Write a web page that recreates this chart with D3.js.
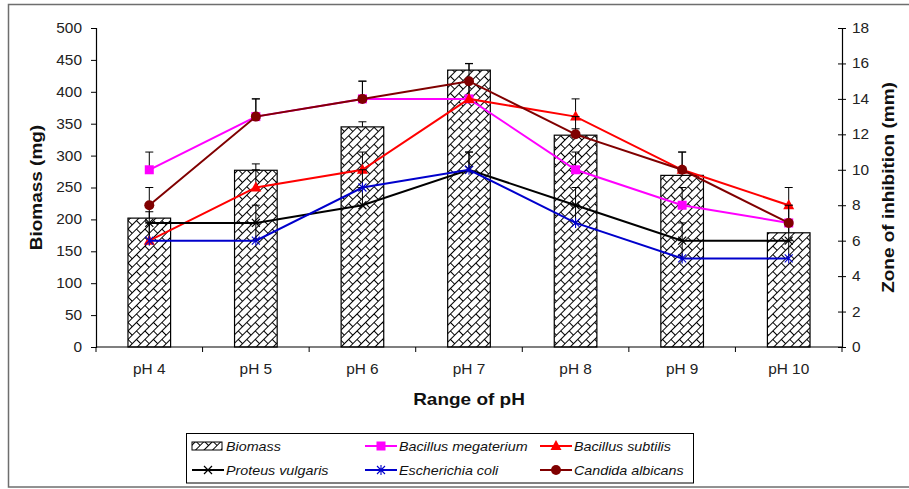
<!DOCTYPE html>
<html><head><meta charset="utf-8">
<script src="https://cdn.jsdelivr.net/npm/d3@7"></script>
<style>
html,body{margin:0;padding:0;background:#fff;}
svg{display:block;font-family:"Liberation Sans",Arial,sans-serif;}
</style></head>
<body><svg id="chart" width="909" height="489"></svg>
<script>
// ---- data ----
const categories = ["pH 4","pH 5","pH 6","pH 7","pH 8","pH 9","pH 10"];
const biomass = [202, 277, 345, 434, 332, 269, 179];
const biomassErr = [10, 10, 8, 10, 10, 10, 10];
const megaterium = [10, 13, 14, 14, 10, 8, 7];
const subtilis = [6, 9, 10, 14, 13, 10, 8];
const proteus = [7, 7, 8, 10, 8, 6, 6];
const ecoli = [6, 6, 9, 10, 7, 5, 5];
const candida = [8, 13, 14, 15, 12, 10, 7];
const zoneErr = [1, 1, 1, 1, 1, 1, 1];
const leftTicks = [0,50,100,150,200,250,300,350,400,450,500];
const rightTicks = [0,2,4,6,8,10,12,14,16,18];

const series = [
  {name:"Bacillus megaterium", values:megaterium, color:"#FF00FF", marker:"square"},
  {name:"Bacillus subtilis", values:subtilis, color:"#FF0000", marker:"triangle"},
  {name:"Proteus vulgaris", values:proteus, color:"#000000", marker:"x"},
  {name:"Escherichia coli", values:ecoli, color:"#0000CC", marker:"star"},
  {name:"Candida albicans", values:candida, color:"#800000", marker:"circle"}
];

const svg = d3.select("#chart");
const L = 96, R = 842, T = 28, B = 347;

function stretch(sel, sx){
  sel.each(function(){
    const t = d3.select(this);
    const x = +t.attr("x") || 0;
    t.attr("x", x/sx);
    const tr = t.attr("transform") || "";
    t.attr("transform", (tr ? tr + " " : "") + `scale(${sx},1)`);
  });
}

// outer frame
svg.append("rect").attr("x",8.5).attr("y",4.5).attr("width",920).attr("height",482.5)
  .attr("fill","none").attr("stroke","#6e6e6e").attr("stroke-width",1.5);

// hatch pattern (diagonal brick)
const defs = svg.append("defs");
const pat = defs.append("pattern").attr("id","brick").attr("patternUnits","userSpaceOnUse")
  .attr("width",12).attr("height",12).attr("patternTransform","rotate(-45)");
pat.append("rect").attr("width",12).attr("height",12).attr("fill","#fff");
pat.append("path").attr("d","M0,0.5H12 M0,6.5H12 M0.5,0.5V6.5 M6.5,6.5V12.5")
  .attr("stroke","#000").attr("stroke-width",1).attr("fill","none");

const x = d3.scaleBand().domain(categories).range([L,R]).paddingInner(0.6).paddingOuter(0.3);
const yL = d3.scaleLinear().domain([0,500]).range([B,T]);
const yR = d3.scaleLinear().domain([0,18]).range([B,T]);
const cx = c => x(c) + x.bandwidth()/2;

// bars
svg.append("g").selectAll("rect").data(categories).join("rect")
  .attr("x", c => x(c)).attr("width", x.bandwidth())
  .attr("y", (c,i) => yL(biomass[i])).attr("height", (c,i) => B - yL(biomass[i]))
  .attr("fill","url(#brick)").attr("stroke","#000").attr("stroke-width",1.2);

// biomass error bars
const eb = svg.append("g").attr("stroke","#000").attr("stroke-width",1);
categories.forEach((c,i) => {
  const px = cx(c), y0 = yL(biomass[i]), y1 = yL(biomass[i]+biomassErr[i]);
  eb.append("line").attr("x1",px).attr("x2",px).attr("y1",y0).attr("y2",y1);
  eb.append("line").attr("x1",px-4).attr("x2",px+4).attr("y1",y1).attr("y2",y1);
});

// axes
const axL = svg.append("g").attr("transform",`translate(${L},0)`)
  .call(d3.axisLeft(yL).tickValues(leftTicks).tickSize(5).tickPadding(9));
const axR = svg.append("g").attr("transform",`translate(${R},0)`)
  .call(d3.axisRight(yR).tickValues(rightTicks).tickSize(4).tickPadding(6));
axR.selectAll(".tick line").attr("x1",-4);
const axB = svg.append("g").attr("transform",`translate(0,${B})`)
  .call(d3.axisBottom(x).tickSize(0).tickPadding(17));
[axL,axR,axB].forEach(a => {
  a.select(".domain").attr("stroke","#000").attr("stroke-width",1.2);
  a.selectAll(".tick line").attr("stroke","#000").attr("stroke-width",1);
  a.selectAll("text").attr("font-family","Liberation Sans, Arial, sans-serif").attr("font-size",14).attr("fill","#222");
  stretch(a.selectAll("text"), 1.1);
});
axB.select(".domain").attr("d",`M${L},0H${R}`);
// category boundary ticks
const boundaries = d3.range(categories.length+1).map(i => L + i*x.step());
axB.selectAll(".bt").data(boundaries).join("line").attr("class","bt")
  .attr("x1",d=>d).attr("x2",d=>d).attr("y1",0).attr("y2",5).attr("stroke","#000");

// series lines, error bars, markers
const line = d3.line().x((d,i)=>cx(categories[i])).y(d=>yR(d));
function marker(g, type, color, px, py){
  if(type==="square") g.append("rect").attr("x",px-4.5).attr("y",py-4.5).attr("width",9).attr("height",9).attr("fill",color);
  else if(type==="triangle") g.append("path").attr("d",`M${px},${py-6}L${px+5.5},${py+4}L${px-5.5},${py+4}Z`).attr("fill",color);
  else if(type==="circle") g.append("circle").attr("cx",px).attr("cy",py).attr("r",5).attr("fill",color);
  else if(type==="x") g.append("path").attr("d",`M${px-4},${py-4}L${px+4},${py+4}M${px-4},${py+4}L${px+4},${py-4}`).attr("stroke",color).attr("stroke-width",1.2);
  else if(type==="star") g.append("path").attr("d",`M${px-4},${py-4}L${px+4},${py+4}M${px-4},${py+4}L${px+4},${py-4}M${px},${py-5}V${py+5}`).attr("stroke",color).attr("stroke-width",1.1);
}
series.forEach(s => {
  const g = svg.append("g");
  g.append("path").datum(s.values).attr("d",line).attr("fill","none").attr("stroke",s.color).attr("stroke-width",2);
  s.values.forEach((v,i) => {
    const px = cx(categories[i]), y0 = yR(v), y1 = yR(v+zoneErr[i]);
    g.append("line").attr("x1",px).attr("x2",px).attr("y1",y0).attr("y2",y1).attr("stroke","#000");
    g.append("line").attr("x1",px-4).attr("x2",px+4).attr("y1",y1).attr("y2",y1).attr("stroke","#000");
  });
  s.values.forEach((v,i) => marker(g, s.marker, s.color, cx(categories[i]), yR(v)));
});

// axis titles
const titles = svg.append("g").attr("font-size",16.5).attr("font-weight","bold").attr("fill","#111").attr("text-anchor","middle");
titles.append("text").attr("transform",`translate(41.5,${(T+B)/2}) rotate(-90)`).text("Biomass (mg)");
titles.append("text").attr("transform",`translate(893.5,${(T+B)/2}) rotate(-90)`).text("Zone of inhibition (mm)");
titles.append("text").attr("transform",`translate(${(L+R)/2},405)`).text("Range of pH");
stretch(titles.selectAll("text"), 1.15);

// legend
const lg = svg.append("g");
lg.append("rect").attr("x",186.5).attr("y",433.5).attr("width",507).attr("height",49.5)
  .attr("fill","#fff").attr("stroke","#000").attr("stroke-width",1);
const legItems = [
  {name:"Biomass", bar:true, col:0, row:0},
  {name:series[0].name, s:series[0], col:1, row:0},
  {name:series[1].name, s:series[1], col:2, row:0},
  {name:series[2].name, s:series[2], col:0, row:1},
  {name:series[3].name, s:series[3], col:1, row:1},
  {name:series[4].name, s:series[4], col:2, row:1}
];
const colX = [192, 365, 540], rowY = [446, 470];
legItems.forEach(it => {
  const x0 = colX[it.col], yy = rowY[it.row];
  if(it.bar){
    lg.append("rect").attr("x",x0).attr("y",yy-4).attr("width",30).attr("height",8)
      .attr("fill","url(#brick)").attr("stroke","#000").attr("stroke-width",1);
  } else {
    lg.append("line").attr("x1",x0).attr("x2",x0+32).attr("y1",yy).attr("y2",yy).attr("stroke",it.s.color).attr("stroke-width",2);
    marker(lg, it.s.marker, it.s.color, x0+16, yy);
  }
  const t = lg.append("text").attr("x",x0+34).attr("y",yy+5).attr("font-size",13).attr("font-style","italic")
    .attr("fill","#111").text(it.name);
  stretch(t, 1.1);
});
</script></body></html>
